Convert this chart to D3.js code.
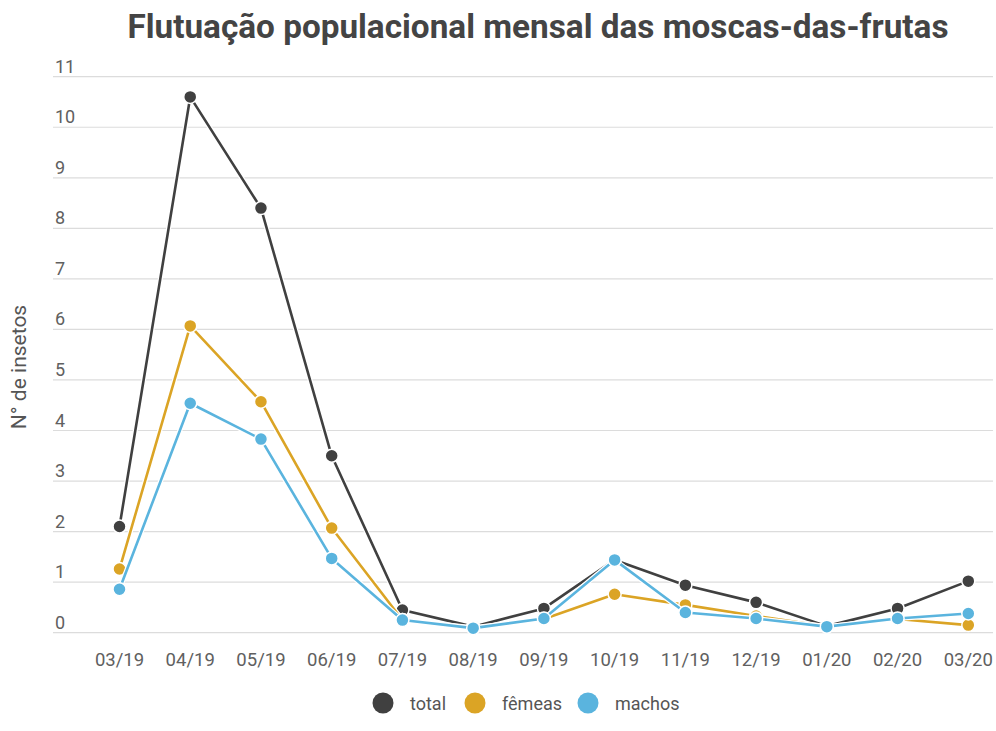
<!DOCTYPE html>
<html>
<head>
<meta charset="utf-8">
<script src="https://cdn.jsdelivr.net/npm/d3@7/dist/d3.min.js"></script>
<style>
  html, body { margin: 0; padding: 0; background: #fff; }
  svg { display: block; font-family: Roboto, "Noto Sans", sans-serif; }
</style>
</head>
<body>
<svg id="chart" width="996" height="731"></svg>
<script>
const months = ["03/19","04/19","05/19","06/19","07/19","08/19","09/19","10/19","11/19","12/19","01/20","02/20","03/20"];
const total  = [2.1, 10.6, 8.4, 3.5, 0.45, 0.12, 0.48, 1.44, 0.94, 0.6, 0.13, 0.48, 1.02];
const femeas = [1.26, 6.07, 4.57, 2.07, 0.25, 0.1, 0.27, 0.76, 0.55, 0.33, 0.12, 0.27, 0.15];
const machos = [0.86, 4.54, 3.83, 1.47, 0.25, 0.09, 0.28, 1.44, 0.4, 0.28, 0.12, 0.28, 0.38];
const yTicks = [0,1,2,3,4,5,6,7,8,9,10,11];
const seriesNames = ["total", "fêmeas", "machos"];
const seriesColors = ["#404040", "#dba425", "#5ab4de"];

const series = [total, femeas, machos].map((vals, i) => ({
  name: seriesNames[i], color: seriesColors[i],
  values: vals.map((v, j) => ({ m: months[j], v }))
}));

const svg = d3.select("#chart");

const x = d3.scalePoint().domain(months).range([119.5, 968.3]);
const y = d3.scaleLinear().domain([0, 11]).range([632.7, 76.7]);

// Title
svg.append("text")
  .attr("x", 538).attr("y", 38)
  .attr("text-anchor", "middle")
  .attr("font-size", 33.3).attr("font-weight", "bold")
  .attr("fill", "#444")
  .text("Flutuação populacional mensal das moscas-das-frutas");

// Grid + y labels
const yAxis = svg.append("g");
yAxis.selectAll("line").data(yTicks).join("line")
  .attr("x1", 53).attr("x2", 993)
  .attr("y1", d => y(d)).attr("y2", d => y(d))
  .attr("stroke", "#dcdcdc").attr("stroke-width", 1.2);
yAxis.selectAll("text").data(yTicks).join("text")
  .attr("x", 55).attr("y", d => y(d) - 4)
  .attr("font-size", 18).attr("fill", "#606060")
  .text(d => d);

// Y title
svg.append("text")
  .attr("transform", "translate(26,367) rotate(-90)")
  .attr("text-anchor", "middle")
  .attr("font-size", 21).attr("fill", "#555")
  .text("N° de insetos");

// X labels
svg.append("g").selectAll("text").data(months).join("text")
  .attr("x", d => x(d)).attr("y", 666)
  .attr("text-anchor", "middle")
  .attr("font-size", 18.5).attr("fill", "#606060")
  .text(d => d);

const line = d3.line().x(d => x(d.m)).y(d => y(d.v));

// Lines with white halo
series.forEach(s => {
  const g = svg.append("g");
  g.append("path").datum(s.values)
    .attr("d", line).attr("fill", "none")
    .attr("stroke", "#fff").attr("stroke-width", 5).attr("stroke-linejoin", "round");
  g.append("path").datum(s.values)
    .attr("d", line).attr("fill", "none")
    .attr("stroke", s.color).attr("stroke-width", 2.6).attr("stroke-linejoin", "round");
  g.selectAll("circle").data(s.values).join("circle")
    .attr("cx", d => x(d.m)).attr("cy", d => y(d.v))
    .attr("r", 6.5)
    .attr("fill", s.color).attr("stroke", "#fff").attr("stroke-width", 1.5);
});

// Legend
const legendX = [383, 475, 588];
const legend = svg.append("g");
series.forEach((s, i) => {
  legend.append("circle")
    .attr("cx", legendX[i]).attr("cy", 703).attr("r", 10.5)
    .attr("fill", s.color);
  legend.append("text")
    .attr("x", legendX[i] + 27).attr("y", 709.5)
    .attr("font-size", 18).attr("fill", "#555")
    .text(s.name);
});
</script>
</body>
</html>
